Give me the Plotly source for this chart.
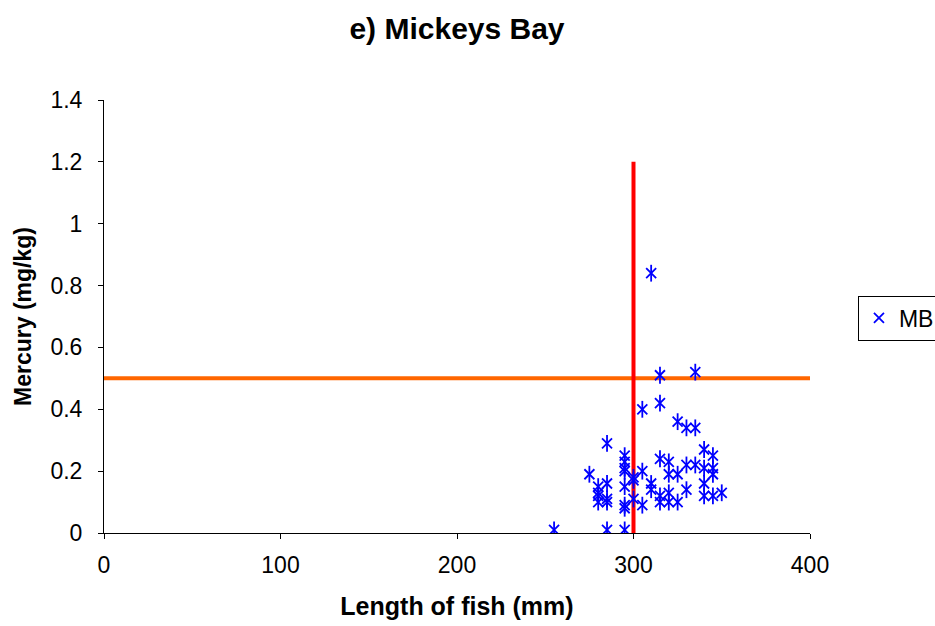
import plotly.graph_objects as go

# Fish length (mm) and mercury (mg/kg), MB series
length_mm = [310, 315, 335, 305, 315, 325, 330, 335, 285, 275,
             295, 295, 295, 295, 300, 300, 305, 295,
             280, 280, 280, 280, 285, 285, 285,
             295, 295, 300, 305, 310, 310,
             315, 320, 320, 325, 315, 315, 320, 320, 325,
             330, 330, 335, 340, 345, 340, 345, 345, 340, 340, 345, 350,
             255, 285, 295]
mercury_mgkg = [0.84, 0.51, 0.52, 0.40, 0.42, 0.36, 0.34, 0.34, 0.29, 0.19,
                0.25, 0.23, 0.21, 0.20, 0.18, 0.17, 0.20, 0.15,
                0.15, 0.13, 0.12, 0.10, 0.16, 0.11, 0.10,
                0.09, 0.08, 0.11, 0.09, 0.16, 0.14,
                0.24, 0.23, 0.19, 0.19, 0.12, 0.10, 0.13, 0.10, 0.10,
                0.14, 0.22, 0.22, 0.27, 0.25, 0.21, 0.21, 0.19, 0.16, 0.12, 0.12, 0.13,
                0.01, 0.01, 0.01]

# Guideline lines
vline_x = [300, 300]
vline_y = [0, 1.2]
hline_x = [0, 400]
hline_y = [0.5, 0.5]

x_ticks = [0, 100, 200, 300, 400]
y_ticks = [0, 0.2, 0.4, 0.6, 0.8, 1, 1.2, 1.4]
y_tick_text = ["0", "0.2", "0.4", "0.6", "0.8", "1", "1.2", "1.4"]

fig = go.Figure()
fig.add_trace(go.Scatter(x=hline_x, y=hline_y, mode="lines",
                         line=dict(color="#FF6600", width=4), showlegend=False,
                         hoverinfo="skip"))
fig.add_trace(go.Scatter(x=vline_x, y=vline_y, mode="lines",
                         line=dict(color="#FF0000", width=4), showlegend=False,
                         hoverinfo="skip"))
fig.add_trace(go.Scatter(x=length_mm, y=mercury_mgkg, mode="markers", name="MB",
                         legendgroup="MB",
                         marker=dict(symbol="x-thin-open", size=10,
                                     color="#0000FF",
                                     line=dict(color="#0000FF", width=1.8))))
fig.add_trace(go.Scatter(x=length_mm, y=mercury_mgkg, mode="markers", name="MB",
                         legendgroup="MB", showlegend=False, hoverinfo="skip",
                         marker=dict(symbol="line-ns-open", size=12,
                                     color="#0000FF",
                                     line=dict(color="#0000FF", width=1.8))))

font_family = "Liberation Sans, Arial, sans-serif"
fig.update_layout(
    width=935, height=626,
    margin=dict(l=104, r=125, t=100, b=93),
    paper_bgcolor="white", plot_bgcolor="white",
    font=dict(family=font_family, color="black", size=23),
    title=dict(text="<b>e) Mickeys Bay</b>", x=0.5, xref="paper", xanchor="center",
               y=0.955, yanchor="middle", font=dict(size=30, family=font_family)),
    xaxis=dict(range=[0, 400], tickvals=x_ticks, showgrid=False, zeroline=False,
               showline=True, linecolor="black", linewidth=1,
               ticks="outside", ticklen=5, tickcolor="black",
               ticklabelstandoff=6,
               tickfont=dict(size=23),
               title=dict(text="<b>Length of fish (mm)</b>", font=dict(size=25), standoff=20)),
    yaxis=dict(range=[0, 1.4], tickvals=y_ticks, ticktext=y_tick_text,
               showgrid=False, zeroline=False,
               showline=True, linecolor="black", linewidth=1,
               ticks="outside", ticklen=5, tickcolor="black",
               ticklabelstandoff=11,
               tickfont=dict(size=23),
               title=dict(text="<b>Mercury (mg/kg)</b>", font=dict(size=23), standoff=12)),
    showlegend=True,
    legend=dict(xref="container", yref="container", x=0.9176, y=0.492,
                xanchor="left", yanchor="middle",
                bordercolor="black", borderwidth=1, bgcolor="white",
                itemwidth=30, font=dict(size=23)),
)

fig.write_html("out.html")
